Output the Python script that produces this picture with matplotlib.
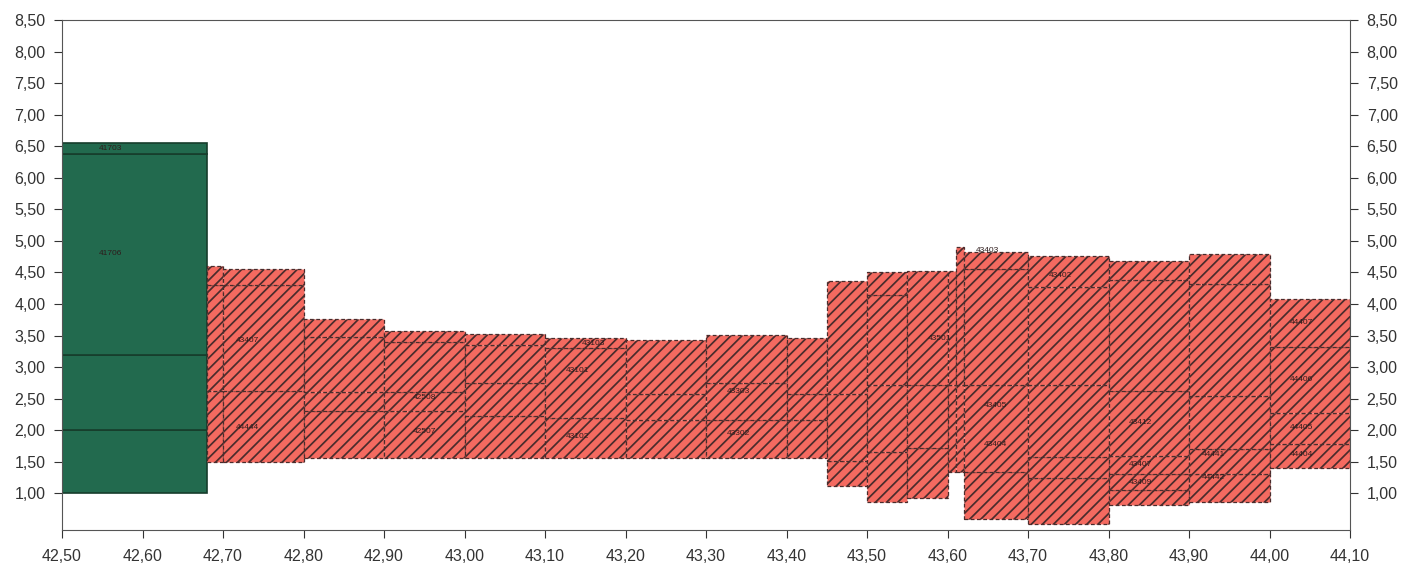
import matplotlib.pyplot as plt
from matplotlib.patches import Rectangle
from matplotlib.ticker import FuncFormatter

plt.rcParams['font.family'] = ['Liberation Sans', 'DejaVu Sans']
plt.rcParams['hatch.linewidth'] = 1.25

# column segments along the section: x range and layer boundaries (bottom -> top)
SEG_X0 = [42.50, 42.68, 42.70, 42.80, 42.90, 43.00, 43.10, 43.20, 43.30, 43.40,
          43.45, 43.50, 43.55, 43.60, 43.61, 43.62, 43.70, 43.80, 43.90, 44.00]
SEG_X1 = [42.68, 42.70, 42.80, 42.90, 43.00, 43.10, 43.20, 43.30, 43.40, 43.45,
          43.50, 43.55, 43.60, 43.61, 43.62, 43.70, 43.80, 43.90, 44.00, 44.10]
SEG_BOUNDS = [
    [1.00, 2.00, 3.20, 6.38, 6.55],
    [1.50, 2.62, 4.30, 4.61],
    [1.50, 2.62, 4.30, 4.55],
    [1.56, 2.31, 2.61, 3.48, 3.76],
    [1.56, 2.31, 2.61, 3.40, 3.57],
    [1.56, 2.23, 2.75, 3.35, 3.52],
    [1.56, 2.20, 3.30, 3.46],
    [1.56, 2.17, 2.58, 3.43],
    [1.56, 2.17, 2.75, 3.51],
    [1.56, 2.17, 2.58, 3.46],
    [1.12, 1.52, 2.58, 4.36],
    [0.87, 1.66, 2.72, 4.14, 4.50],
    [0.93, 1.72, 2.72, 4.53],
    [1.34, 2.72, 4.53],
    [1.34, 2.72, 4.90],
    [0.60, 1.34, 2.72, 4.55, 4.82],
    [0.52, 1.25, 1.58, 2.72, 4.27, 4.76],
    [0.82, 1.05, 1.30, 1.60, 2.62, 4.38, 4.68],
    [0.87, 1.30, 1.70, 2.55, 4.32, 4.80],
    [1.41, 1.78, 2.28, 3.32, 4.08],
]
SEG_KIND = ['green'] + ['red'] * 19

# sample codes written inside the layers
LABEL_X = [42.56, 42.56, 42.73, 42.73, 42.95, 42.95, 43.14, 43.14, 43.16,
           43.34, 43.34, 43.59, 43.65, 43.74, 43.66, 43.66, 43.84, 43.84, 43.84,
           43.93, 43.93, 44.04, 44.04, 44.04, 44.04]
LABEL_Y = [6.47, 4.80, 3.42, 2.05, 2.52, 1.98, 2.95, 1.90, 3.37,
           2.62, 1.95, 3.45, 4.85, 4.45, 2.40, 1.78, 2.12, 1.45, 1.18,
           1.62, 1.25, 3.70, 2.80, 2.05, 1.62]
LABEL_TEXT = ['41703', '41706', '43407', '44444', '42508', '42507', '43101', '43102', '43103',
              '43303', '43302', '43501', '43403', '43402', '43405', '43404', '43412', '43407', '43409',
              '44441', '44442', '44407', '44406', '44405', '44404']

Y_TICKS_MIN, Y_TICKS_MAX = 1.0, 8.5


def comma(v, pos):
    return f"{v:.2f}".replace('.', ',')


fig = plt.figure(figsize=(14.16, 5.79), dpi=100)
ax = fig.add_axes([0.0438, 0.0846, 0.9096, 0.8809])

for x0, x1, bounds, kind in zip(SEG_X0, SEG_X1, SEG_BOUNDS, SEG_KIND):
    for lo, hi in zip(bounds[:-1], bounds[1:]):
        if kind == 'green':
            r = Rectangle((x0, lo), x1 - x0, hi - lo, facecolor='#226a4e',
                          edgecolor='#173d2c', linewidth=1.2)
        else:
            r = Rectangle((x0, lo), x1 - x0, hi - lo, facecolor='#f46a60',
                          edgecolor='#4a2c2c', hatch='///', linestyle=(0, (3, 2)),
                          linewidth=0.9)
        ax.add_patch(r)

for x, y, t in zip(LABEL_X, LABEL_Y, LABEL_TEXT):
    ax.text(x, y, t, fontsize=6, color='#2e1c1c', ha='center', va='center')

ax.set_xlim(42.50, 44.10)
ax.set_ylim(0.42, 8.50)
ax.set_xticks([42.50 + 0.1 * i for i in range(17)])
yt = [Y_TICKS_MIN + 0.5 * i for i in range(int((Y_TICKS_MAX - Y_TICKS_MIN) / 0.5) + 1)]
ax.set_yticks(yt)
ax.xaxis.set_major_formatter(FuncFormatter(comma))
ax.yaxis.set_major_formatter(FuncFormatter(comma))

ax.tick_params(axis='both', labelsize=11.5, colors='#333333', length=6, width=0.8)
ax.tick_params(axis='y', right=True, labelright=True, pad=6)
ax.tick_params(axis='x', pad=8)
for s in ax.spines.values():
    s.set_color('#555555')
    s.set_linewidth(0.8)

fig.savefig('out.png', dpi=100)
